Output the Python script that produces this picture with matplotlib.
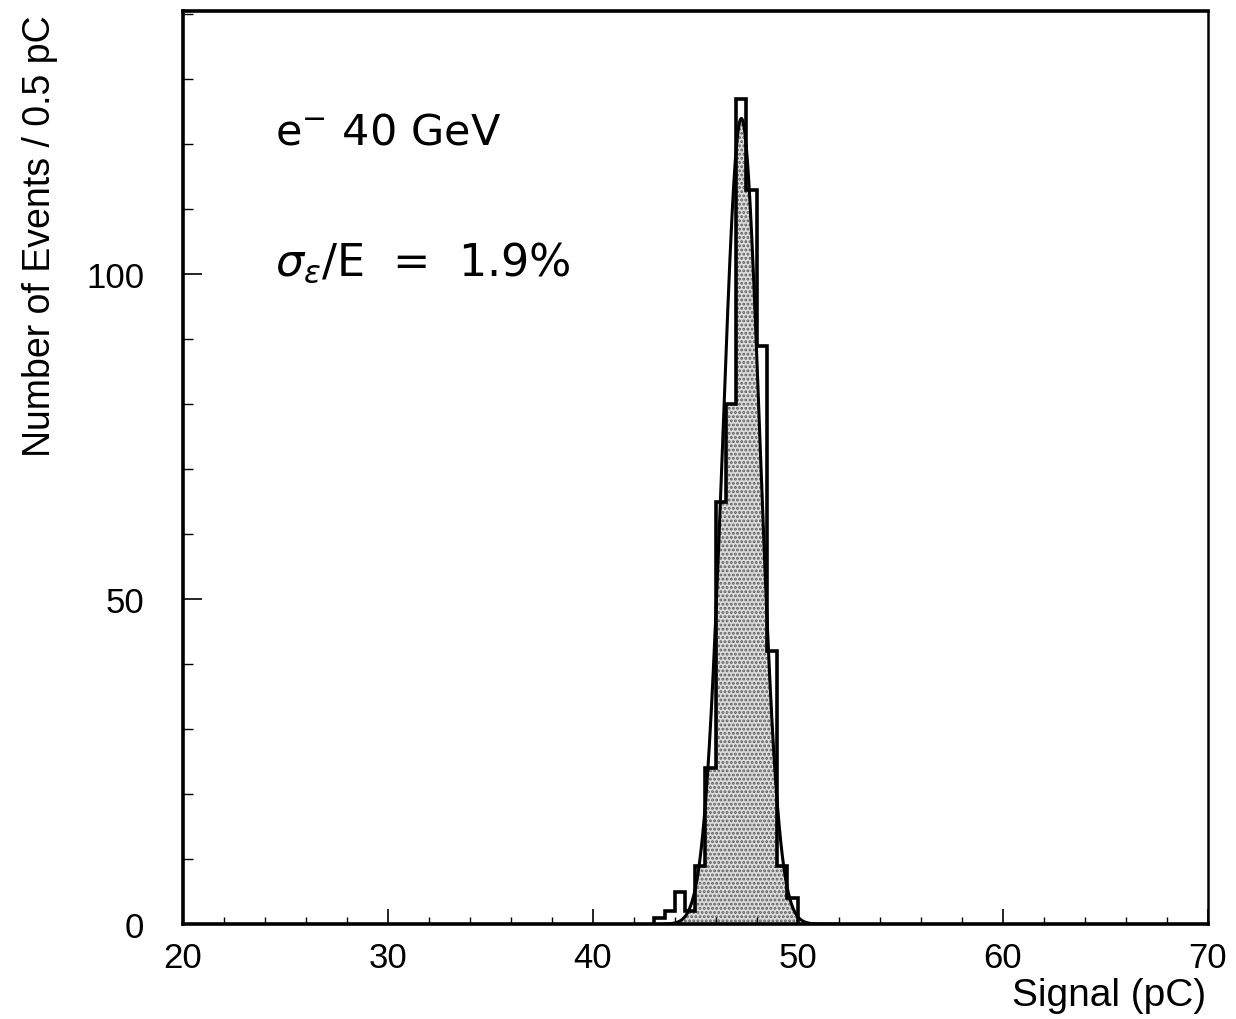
import numpy as np
import matplotlib.pyplot as plt
from matplotlib.ticker import MultipleLocator

# histogram: bins of 0.5 pC from 43.0 to 50.0
bin_lo = 43.0
bin_w = 0.5
counts = [1, 2, 5, 2, 9, 24, 65, 80, 127, 113, 89, 42, 9, 4]

# gaussian fit
fit_mean = 47.25
fit_sigma = 0.9
fit_amp = 124.0

edges = bin_lo + bin_w * np.arange(len(counts) + 1)

plt.rcParams['font.family'] = ['Liberation Sans', 'DejaVu Sans']

fig = plt.figure(figsize=(12.36, 10.2), dpi=100)
ax = fig.add_axes([0.148, 0.093, 0.829, 0.895])

# shaded area: inside both the histogram and the fit
xf = np.linspace(edges[0], edges[-1], 3001)
idx = np.clip(((xf - bin_lo) / bin_w).astype(int), 0, len(counts) - 1)
hf = np.array(counts)[idx]
gf = fit_amp * np.exp(-0.5 * ((xf - fit_mean) / fit_sigma) ** 2)
plt.rcParams['hatch.linewidth'] = 1.4
ax.fill_between(xf, 0, np.minimum(hf, gf), facecolor='#dcdcdc',
                hatch='....', edgecolor='#606060', linewidth=0)

ax.stairs(counts, edges, color='black', linewidth=2.6)

xc = np.linspace(43.5, 52.0, 600)
ax.plot(xc, fit_amp * np.exp(-0.5 * ((xc - fit_mean) / fit_sigma) ** 2),
        color='black', linewidth=2.2)

ax.set_xlim(20, 70)
ax.set_ylim(0, 140.5)
ax.xaxis.set_major_locator(MultipleLocator(10))
ax.xaxis.set_minor_locator(MultipleLocator(2))
ax.yaxis.set_major_locator(MultipleLocator(50))
ax.yaxis.set_minor_locator(MultipleLocator(10))
ax.tick_params(which='both', direction='in', top=False, right=False)
ax.tick_params(axis='y', which='major', length=14, width=1.2, pad=28, labelsize=25)
ax.tick_params(axis='y', which='minor', length=7, width=1.0)
ax.tick_params(axis='x', which='major', length=11, width=1.2, pad=12, labelsize=25)
ax.tick_params(axis='x', which='minor', length=5, width=1.0)
for side in ['left', 'bottom', 'top']:
    ax.spines[side].set_linewidth(2.6)
ax.spines['right'].set_linewidth(1.8)

fig.text(0.976, 0.024, 'Signal (pC)', fontsize=28, ha='right', va='center')
fig.text(0.032, 0.985, 'Number of Events / 0.5 pC', fontsize=27,
         rotation=90, ha='center', va='top')

ax.text(0.09, 122, r'e$^{-}$ 40 GeV', fontsize=31, family='DejaVu Sans',
        transform=ax.get_yaxis_transform(), va='center')
ax.text(0.09, 102, r'$\sigma_{\epsilon}$/E  =  1.9%', fontsize=32,
        family='DejaVu Sans', transform=ax.get_yaxis_transform(), va='center')

plt.savefig('out.png', dpi=100)
